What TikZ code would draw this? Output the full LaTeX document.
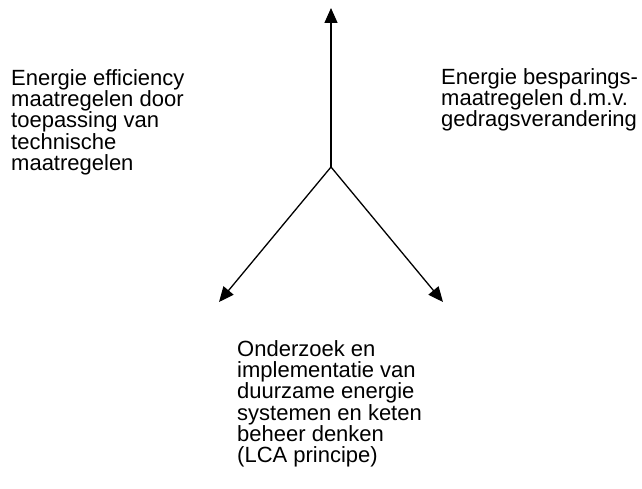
\documentclass[tikz,border=0pt]{standalone}
\usepackage{fontspec}
\setmainfont{Liberation Sans}
\usetikzlibrary{arrows.meta}

\begin{document}
\begin{tikzpicture}[x=1pt, y=-1pt, line cap=round, line join=round]
  % styles
  \tikzset{
    pijl/.style={line width=1.3pt, -{Triangle[length=15pt,width=13pt]}},
    tekst/.style={anchor=north west, inner sep=0pt, align=left,
      font=\fontsize{22}{21.3}\selectfont}
  }

  % ----- frame -----
  \useasboundingbox (0,0) rectangle (642,489);

  % ----- points -----
  \coordinate (M) at (331,167);
  \coordinate (Boven) at (331,8);
  \coordinate (Links) at (219,302);
  \coordinate (Rechts) at (443,302);

  % ----- arrows -----
  \foreach \Q in {Boven,Links,Rechts} \draw[pijl] (M) -- (\Q);

  % ----- texts -----
  \node[tekst] (techniek) at (11,69) {Energie efficiency\\maatregelen door\\toepassing van\\technische\\maatregelen};
  \node[tekst] (gedrag) at (441,68) {Energie besparings-\\maatregelen d.m.v.\\gedragsverandering};
  \node[tekst] (lca) at (237,340) {Onderzoek en\\implementatie van\\duurzame energie\\systemen en keten\\beheer denken\\(LCA principe)};
\end{tikzpicture}
\end{document}
